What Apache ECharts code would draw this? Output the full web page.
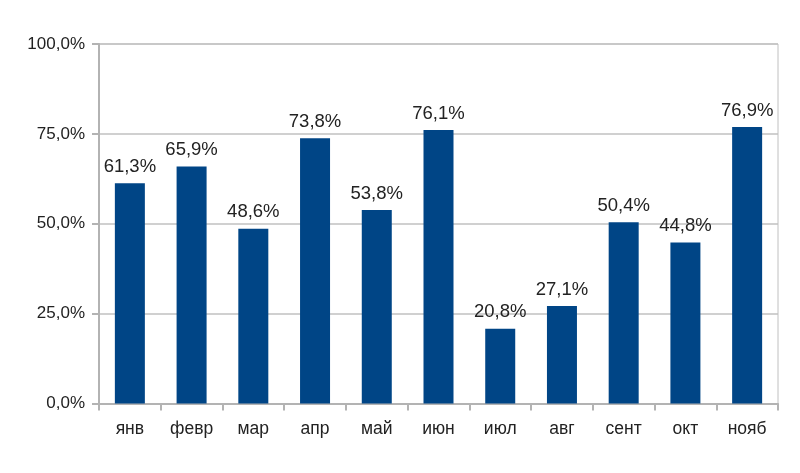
<!DOCTYPE html>
<html><head><meta charset="utf-8">
<script src="https://cdn.jsdelivr.net/npm/echarts@6/dist/echarts.min.js"></script>
<style>html,body{margin:0;padding:0;background:#fff}#c{width:800px;height:473px}</style>
</head><body><div id="c"></div>
<script>
const categories = ['янв','февр','мар','апр','май','июн','июл','авг','сент','окт','нояб'];
const values = [61.3, 65.9, 48.6, 73.8, 53.8, 76.1, 20.8, 27.1, 50.4, 44.8, 76.9];
const yTicks = [0, 25, 50, 75, 100];

const fmt = v => v.toFixed(1).replace('.', ',') + '%';
const FF = 'Liberation Sans, Arial, sans-serif';
const chart = echarts.init(document.getElementById('c'), null, {renderer: 'canvas'});
chart.setOption({
  animation: false,
  backgroundColor: '#ffffff',
  textStyle: {fontFamily: FF},
  grid: {left: 99, right: 22, top: 44, bottom: 69.5, containLabel: false, show: true, borderColor: '#c0c0c0', borderWidth: 1},
  xAxis: {
    type: 'category', data: categories,
    axisLine: {lineStyle: {color: '#b3b3b3', width: 2}},
    axisTick: {show: true, inside: false, length: 7, lineStyle: {color: '#b3b3b3', width: 2}},
    axisLabel: {color: '#222', fontSize: 17.5, margin: 17, fontFamily: FF}
  },
  yAxis: {
    type: 'value', min: yTicks[0], max: yTicks[yTicks.length - 1], interval: 25,
    axisLine: {show: true, lineStyle: {color: '#b3b3b3', width: 2}},
    axisTick: {show: true, inside: false, length: 7, lineStyle: {color: '#b3b3b3', width: 2}},
    splitLine: {show: true, lineStyle: {color: '#c0c0c0', width: 1.5}},
    axisLabel: {color: '#222', fontSize: 17, margin: 14, formatter: v => fmt(v), fontFamily: FF}
  },
  series: [{
    type: 'bar', data: values, barWidth: 30,
    itemStyle: {color: '#004586'},
    label: {show: true, position: 'top', distance: 7, color: '#222', fontSize: 18.5,
      fontFamily: FF, formatter: p => fmt(p.value)}
  }]
});
</script></body></html>
